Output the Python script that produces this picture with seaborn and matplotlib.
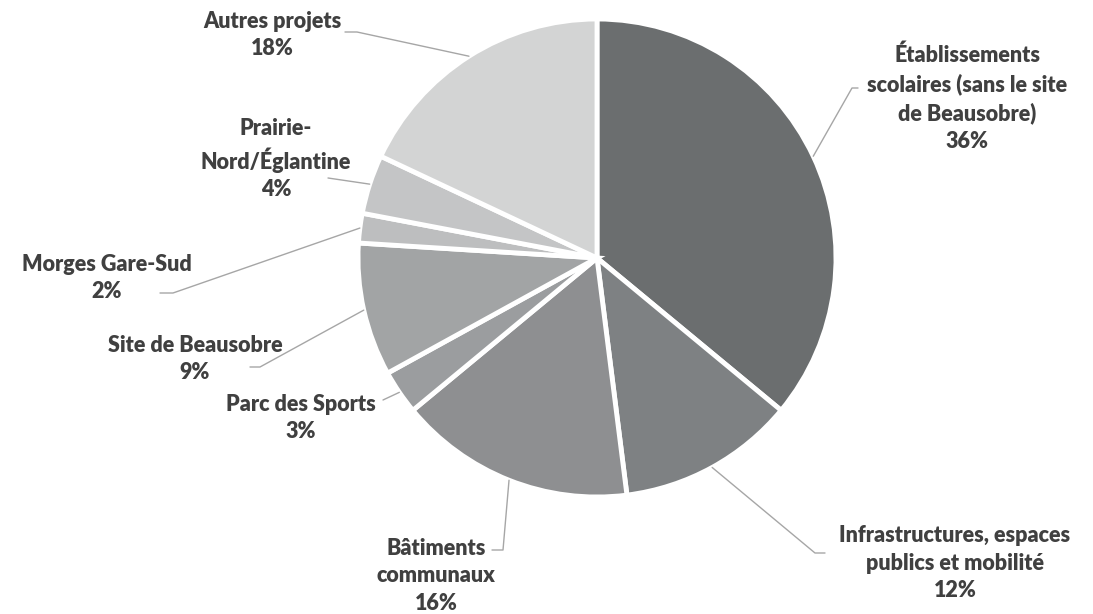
import numpy as np
import matplotlib
matplotlib.use("Agg")
import matplotlib.pyplot as plt
import seaborn as sns

# Données
categories = [
    "Établissements\nscolaires (sans le site\nde Beausobre)",
    "Infrastructures, espaces\npublics et mobilité",
    "Bâtiments\ncommunaux",
    "Parc des Sports",
    "Site de Beausobre",
    "Morges Gare-Sud",
    "Prairie-\nNord/Églantine",
    "Autres projets",
]
valeurs = [36, 12, 16, 3, 9, 2, 4, 18]
couleurs = ["#6b6e6f", "#7e8183", "#8e8f91", "#9b9d9f", "#a2a4a5",
            "#bdbebf", "#c4c5c6", "#d3d4d4"]

# positions des étiquettes (pixels) et coudes des lignes de rappel
pos_textes = [(967, 98), (955, 563), (436, 576), (301, 418),
              (195, 359), (107, 278), (276, 159), (272, 35)]
coudes = [[(852, 88), (858, 88)], [(815, 553), (825, 553)],
          [(503, 550), (492, 550)], [(383, 400)],
          [(260, 367), (250, 367)], [(173, 293), (160, 293)],
          [(328, 178)], [(357, 32), (345, 32)]]

sns.set_theme(style="white")
plt.rcParams['font.family'] = ['Lato', 'DejaVu Sans']

W, H = 1093, 614
cx, cy, R = 597, 258, 239
fig = plt.figure(figsize=(W / 100, H / 100), dpi=100)
ax = fig.add_axes([(cx - R) / W, (H - cy - R) / H, 2 * R / W, 2 * R / H])


def px2d(p):
    return ((p[0] - cx) / R, (cy - p[1]) / R)


wedges, _ = ax.pie(valeurs, colors=couleurs, startangle=90, counterclock=False,
                   radius=1, wedgeprops=dict(edgecolor="white", linewidth=3.5))
ax.set_xlim(-1, 1)
ax.set_ylim(-1, 1)
ax.axis("off")

for w, cat, v, pt, cd in zip(wedges, categories, valeurs, pos_textes, coudes):
    ang = np.deg2rad((w.theta1 + w.theta2) / 2)
    pts = [(np.cos(ang), np.sin(ang))] + [px2d(c) for c in cd]
    xs, ys = zip(*pts)
    ax.plot(xs, ys, color="#a6a6a6", lw=1, clip_on=False)
    tx, ty = px2d(pt)
    ax.text(tx, ty, f"{cat}\n{v}%", ha="center", va="center", fontsize=15.5,
            fontweight="heavy", color="#404040", linespacing=1.4, clip_on=False)

fig.savefig("out.png", dpi=100)
